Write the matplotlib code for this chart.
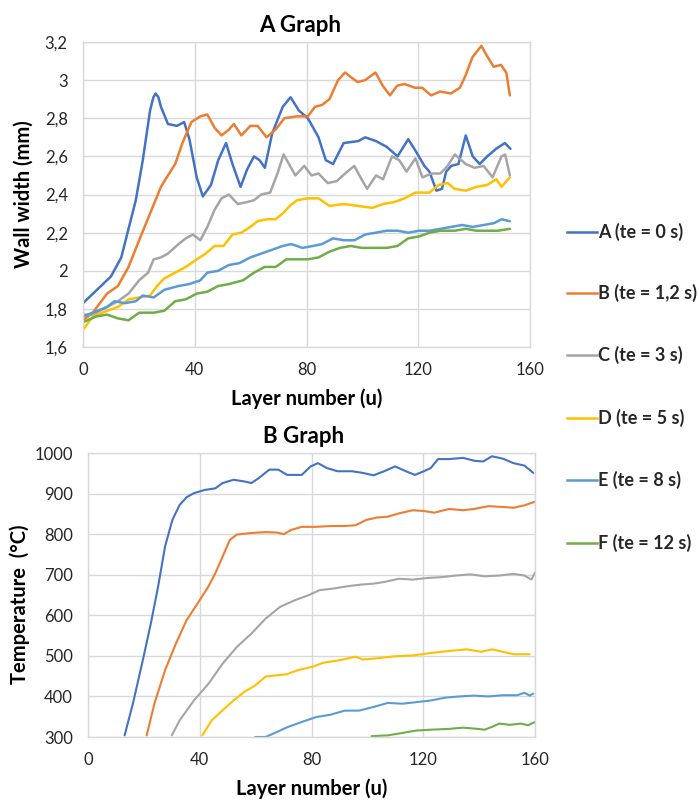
import matplotlib
matplotlib.use("Agg")
import matplotlib.pyplot as plt
from matplotlib.lines import Line2D

plt.rcParams['font.family'] = ['Lato', 'DejaVu Sans']

# ---------------- data ----------------
series_labels = ["A (te = 0 s)", "B (te = 1,2 s)", "C (te = 3 s)",
                 "D (te = 5 s)", "E (te = 8 s)", "F (te = 12 s)"]
colors = ["#4472C4", "#ED7D31", "#A5A5A5", "#FFC000", "#5B9BD5", "#70AD47"]

# A Graph : wall width (mm) vs layer number
wA_x = [0, 10, 13.7, 18.9, 21.4, 24, 25.2, 26, 27, 27.9, 30.4, 33.6, 36.2, 38.1, 40.7, 42.9, 45.8,
        48.4, 51.2, 53.5, 56.4, 58.7, 61.2, 63.2, 65.1, 67.7, 71.5, 74.3, 77.3, 80.5,
        84.3, 86.9, 89.5, 93.3, 98.5, 101, 104.9, 108.7, 112.6, 116.4, 119, 122.2, 124,
        126.5, 128.5, 130, 131.8, 134.4, 137, 139.5, 142, 144.7, 147.9, 151, 153]
wA_y = [1.83, 1.97, 2.07, 2.37, 2.58, 2.84, 2.91, 2.93, 2.91, 2.86, 2.77, 2.76, 2.78, 2.69, 2.49, 2.39, 2.45,
        2.58, 2.67, 2.56, 2.44, 2.53, 2.60, 2.58, 2.54, 2.72, 2.86, 2.91, 2.84, 2.80,
        2.70, 2.58, 2.56, 2.67, 2.68, 2.70, 2.68, 2.65, 2.60, 2.69, 2.63, 2.55, 2.52,
        2.42, 2.43, 2.52, 2.55, 2.56, 2.71, 2.60, 2.56, 2.60, 2.64, 2.67, 2.64]

wB_x = [0, 3.5, 8.6, 12.5, 16.3, 20.1, 24, 27.9, 30.4, 33, 35.6, 38.8, 42, 44.5, 47.1,
        49.6, 52.2, 54, 56.7, 59.9, 62.5, 65.7, 68.9, 72.1, 76.6, 80.5, 83, 85.6, 88.2,
        91.3, 93.8, 96.4, 98.3, 101, 104.7, 107.3, 109.9, 112.4, 115, 118.8, 121.4,
        124.6, 127.8, 131.7, 134.9, 136.8, 139.4, 142.6, 144.5, 147, 149.6, 151.5, 152.8]
wB_y = [1.74, 1.78, 1.88, 1.92, 2.02, 2.16, 2.30, 2.44, 2.50, 2.56, 2.67, 2.78, 2.81, 2.82, 2.75,
        2.71, 2.74, 2.77, 2.71, 2.76, 2.76, 2.70, 2.74, 2.80, 2.81, 2.81, 2.86, 2.87, 2.90,
        3.00, 3.04, 3.01, 2.99, 3.00, 3.04, 2.97, 2.92, 2.97, 2.98, 2.96, 2.96,
        2.92, 2.94, 2.93, 2.96, 3.02, 3.12, 3.18, 3.13, 3.07, 3.08, 3.04, 2.92]

wC_x = [0, 3.5, 8.6, 12.5, 16.3, 20.1, 23.3, 25.3, 27.9, 30.4, 34.2, 36.8, 39.4, 42, 44.5,
        47.1, 49.6, 52.2, 55.4, 58.6, 61.2, 63.8, 67, 69.6, 71.8, 74.1, 76, 79.2, 81.8,
        84.3, 87.6, 90.8, 93.8, 97.1, 99.7, 101.7, 104.9, 107.4, 110.6, 113.2, 115.8,
        119, 121.5, 124.7, 127.9, 130.5, 133.1, 137, 140.2, 143.4, 146.6, 149.8, 151.1, 152.8]
wC_y = [1.77, 1.77, 1.81, 1.84, 1.88, 1.95, 1.99, 2.06, 2.07, 2.09, 2.14, 2.17, 2.19, 2.16, 2.23,
        2.32, 2.38, 2.40, 2.35, 2.36, 2.37, 2.40, 2.41, 2.51, 2.61, 2.55, 2.50, 2.55, 2.50,
        2.51, 2.46, 2.47, 2.51, 2.55, 2.48, 2.43, 2.50, 2.48, 2.60, 2.58, 2.52,
        2.59, 2.49, 2.51, 2.51, 2.55, 2.61, 2.56, 2.54, 2.55, 2.49, 2.60, 2.61, 2.50]

wD_x = [0, 3.5, 8.6, 12.5, 16.3, 20.1, 24, 26.5, 29.1, 33, 36.8, 40.7, 43.9, 47.1, 50.3,
        53.5, 56.7, 59.9, 62.5, 65.7, 68.9, 71.5, 74, 76.6, 80.5, 84.3, 88.2, 93.3, 98.5,
        103.6, 107.4, 111.3, 115.1, 119, 124, 127.3, 130.5, 133, 137, 140.8, 144.7,
        147.9, 149.8, 152.8]
wD_y = [1.69, 1.76, 1.79, 1.81, 1.85, 1.86, 1.87, 1.92, 1.96, 1.99, 2.02, 2.06, 2.09, 2.13, 2.13,
        2.19, 2.20, 2.23, 2.26, 2.27, 2.27, 2.30, 2.34, 2.37, 2.38, 2.38, 2.34, 2.35, 2.34,
        2.33, 2.35, 2.36, 2.38, 2.41, 2.41, 2.45, 2.46, 2.43, 2.42, 2.44, 2.45,
        2.48, 2.44, 2.49]

wE_x = [0, 3.5, 8.6, 11.2, 15, 18.9, 21.4, 25.3, 29.1, 34.2, 38, 42, 44.5, 48.4, 52.2,
        56, 59.9, 63.8, 67.7, 71.5, 74.6, 78.5, 82.3, 85.6, 89.5, 93.3, 97.2, 101,
        104.9, 108.7, 112.6, 116.4, 120.3, 124.1, 128, 131.8, 135.7, 139.5, 143.4,
        147.2, 149.8, 152.8]
wE_y = [1.76, 1.78, 1.81, 1.84, 1.83, 1.84, 1.87, 1.86, 1.90, 1.92, 1.93, 1.95, 1.99, 2.00, 2.03,
        2.04, 2.07, 2.09, 2.11, 2.13, 2.14, 2.12, 2.13, 2.14, 2.17, 2.16, 2.16, 2.19,
        2.20, 2.21, 2.21, 2.20, 2.21, 2.21, 2.22, 2.23, 2.24, 2.23, 2.24,
        2.25, 2.27, 2.26]

wF_x = [0, 4.7, 8.6, 12.5, 16.3, 20.1, 25.3, 29.1, 33, 36.8, 40.7, 44.5, 48.4, 52.2,
        57.3, 61.2, 65, 69, 72.8, 76.6, 80.5, 84.3, 88.2, 92, 95.9, 99.7, 104.9, 108.7,
        112.6, 116.4, 120.3, 124.1, 128, 133.1, 137, 140.8, 144.7, 148.5, 152.8]
wF_y = [1.73, 1.76, 1.77, 1.75, 1.74, 1.78, 1.78, 1.79, 1.84, 1.85, 1.88, 1.89, 1.92, 1.93,
        1.95, 1.99, 2.02, 2.02, 2.06, 2.06, 2.06, 2.07, 2.10, 2.12, 2.13, 2.12, 2.12, 2.12,
        2.13, 2.17, 2.18, 2.20, 2.21, 2.21, 2.22, 2.21, 2.21, 2.21, 2.22]

# B Graph : temperature (°C) vs layer number
tA_x = [13.1, 16.1, 19.9, 22.5, 25.1, 27.6, 30.2, 32.8, 35.3, 37.9, 41.8, 45.6, 48.2, 52.1,
        55.9, 58.5, 61.1, 64.9, 68.1, 71.3, 76.5, 79.7, 82.3, 85.5, 89.3, 94.5, 98.3,
        102.2, 106, 109.9, 113.8, 117, 120.2, 122.7, 125.3, 129.2, 134.3, 138.2, 141.4,
        144.6, 148.5, 152.3, 156.2, 159.4]
tA_y = [304, 383, 498, 580, 671, 770, 835, 872, 891, 901, 909, 913, 926, 934,
        930, 926, 938, 959, 959, 946, 946, 967, 975, 963, 955, 955, 951,
        945, 955, 967, 955, 946, 955, 963, 985, 985, 988, 981, 979,
        992, 986, 975, 969, 951]

tB_x = [21, 23.8, 27.6, 31.5, 35.3, 39.2, 43.1, 45.6, 48.2, 50.8, 53.3, 58.5, 63.6, 67.5,
        70.1, 72.6, 76.5, 81.6, 86.8, 91.9, 95.8, 99.6, 103.5, 107.3, 111.2, 116.3,
        120.2, 124, 129.2, 134.3, 138.2, 143.3, 148.5, 152.3, 156.2, 160]
tB_y = [304, 383, 465, 531, 588, 629, 671, 704, 745, 786, 799, 803, 805, 804,
        800, 810, 818, 818, 820, 820, 822, 835, 841, 843, 851, 859,
        857, 853, 862, 859, 862, 869, 867, 865, 871, 880]

tC_x = [30, 32.8, 37.9, 43.1, 48.2, 53.3, 58.5, 63.6, 68.8, 74, 79.1, 82.9, 88, 93.2,
        98.3, 102.2, 106, 111.2, 116.3, 121.5, 126.6, 131.7, 136.9, 142, 147.2, 152.3,
        156.2, 158.7, 160]
tC_y = [304, 341, 390, 431, 481, 522, 555, 592, 621, 637, 650, 662, 666, 672,
        676, 678, 682, 690, 688, 692, 694, 698, 701, 696, 698, 702,
        698, 688, 705]

tD_x = [40.9, 44.3, 48.2, 52.1, 55.9, 59.8, 63.6, 67.5, 71.3, 75.2, 80.3, 84.2, 90.6,
        95.8, 98.3, 103.5, 109.9, 116.3, 122.7, 129.2, 135.6, 140.7, 144.6, 148.5,
        152.3, 158.1]
tD_y = [304, 341, 366, 390, 411, 427, 449, 452, 455, 465, 473, 483, 490,
        498, 491, 494, 499, 501, 507, 512, 516, 510, 516, 510,
        504, 504]

tE_x = [59.8, 63.6, 67.5, 71.3, 76.5, 81.6, 86.8, 91.9, 97, 102.2, 107.3, 112.5, 117.6,
        122.7, 127.9, 133, 138.2, 143.3, 148.5, 153.6, 156.2, 158.1, 159.4]
tE_y = [300, 300, 312, 324, 337, 349, 355, 365, 365, 374, 384, 382, 386,
        390, 397, 400, 402, 400, 403, 403, 409, 402, 407]

tF_x = [101.5, 107.3, 112.5, 117.6, 122.7, 129.2, 134.3, 139.5, 142, 144.6, 147.2, 151,
        154.9, 157.5, 160]
tF_y = [302, 304, 310, 316, 318, 320, 323, 320, 318, 325, 333, 330,
        333, 329, 337]

wall_x = [wA_x, wB_x, wC_x, wD_x, wE_x, wF_x]
wall_y = [wA_y, wB_y, wC_y, wD_y, wE_y, wF_y]
temp_x = [tA_x, tB_x, tC_x, tD_x, tE_x, tF_x]
temp_y = [tA_y, tB_y, tC_y, tD_y, tE_y, tF_y]

x_ticks = [0, 40, 80, 120, 160]
wall_ticks = [1.6, 1.8, 2.0, 2.2, 2.4, 2.6, 2.8, 3.0, 3.2]
wall_tick_labels = ["1,6", "1,8", "2", "2,2", "2,4", "2,6", "2,8", "3", "3,2"]
temp_ticks = [300, 400, 500, 600, 700, 800, 900, 1000]

# ---------------- figure ----------------
W, H = 699, 802
fig = plt.figure(figsize=(W / 100, H / 100), dpi=100)

def px_axes(left, right, top, bottom):
    return fig.add_axes([left / W, 1 - bottom / H, (right - left) / W, (bottom - top) / H])

A1 = (83, 530, 42, 347)
A2 = (88, 535, 453, 737)
ax1 = px_axes(*A1)
ax2 = px_axes(*A2)

text_col = "#262626"
grid_col = "#D9D9D9"
TICK_FS = 12
LABEL_FS = 14.5
TITLE_FS = 16

def style(ax):
    for s in ax.spines.values():
        s.set_color(grid_col)
        s.set_linewidth(1.0)
    ax.grid(True, color=grid_col, linewidth=1.0)
    ax.set_axisbelow(True)
    ax.tick_params(length=0, labelsize=TICK_FS, colors=text_col)
    ax.tick_params(axis='x', pad=11)
    ax.tick_params(axis='y', pad=11)

for xs, ys, c in zip(wall_x, wall_y, colors):
    ax1.plot(xs, ys, color=c, linewidth=1.8, solid_joinstyle='round', solid_capstyle='round')
ax1.set_xlim(0, 160)
ax1.set_ylim(1.6, 3.2)
ax1.set_xticks(x_ticks)
ax1.set_yticks(wall_ticks)
ax1.set_yticklabels(wall_tick_labels)
style(ax1)
ax1.set_title("A Graph", fontsize=TITLE_FS, fontweight='bold', color='black', pad=7,
              x=(300.5 - A1[0]) / (A1[1] - A1[0]))
ax1.set_xlabel("Layer number (u)", fontsize=LABEL_FS, fontweight='bold', color='black', labelpad=7)
ax1.set_ylabel("Wall width (mm)", fontsize=LABEL_FS, fontweight='bold', color='black')
ax1.yaxis.set_label_coords((34 - A1[0]) / (A1[1] - A1[0]), 0.5)

for xs, ys, c in zip(temp_x, temp_y, colors):
    ax2.plot(xs, ys, color=c, linewidth=1.5, solid_joinstyle='round', solid_capstyle='round')
ax2.set_xlim(0, 160)
ax2.set_ylim(300, 1000)
ax2.set_xticks(x_ticks)
ax2.set_yticks(temp_ticks)
style(ax2)
ax2.set_title("B Graph", fontsize=TITLE_FS, fontweight='bold', color='black', pad=7,
              x=(303.5 - A2[0]) / (A2[1] - A2[0]))
ax2.set_xlabel("Layer number (u)", fontsize=LABEL_FS, fontweight='bold', color='black', labelpad=7)
ax2.set_ylabel("Temperature  (°C)", fontsize=LABEL_FS, fontweight='bold', color='black')
ax2.yaxis.set_label_coords((30 - A2[0]) / (A2[1] - A2[0]), 1 - (604 - A2[2]) / (A2[3] - A2[2]))

# legend (manual, right side)
leg_y = [232, 293, 355, 418, 480, 543]
for lab, c, yy in zip(series_labels, colors, leg_y):
    fig.add_artist(Line2D([567 / W, 597 / W], [1 - yy / H, 1 - yy / H],
                          transform=fig.transFigure, color=c, linewidth=1.8))
    fig.text(598 / W, 1 - yy / H, lab, fontsize=13, fontweight='bold',
             color=text_col, va='center', ha='left')

fig.savefig("out.png", dpi=100, facecolor='white')
